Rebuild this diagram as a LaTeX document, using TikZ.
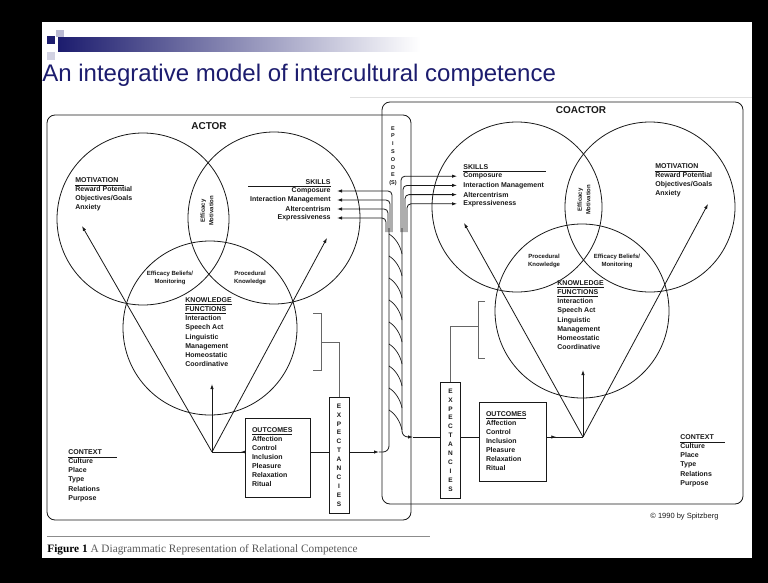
\documentclass[tikz,border=0pt]{standalone}
\usepackage{fontspec}
\setmainfont{Liberation Serif}
\setsansfont{Liberation Sans}
\usetikzlibrary{arrows.meta,positioning,decorations.markings}
\definecolor{navy}{RGB}{28,28,110}
\definecolor{ink}{RGB}{25,25,25}

\begin{document}
\begin{tikzpicture}[x=1pt,y=-1pt,line width=0.8pt,color=ink,
  >={Latex[length=5pt,width=3.4pt]},
  frame/.style={draw,rounded corners=8pt,inner sep=0pt},
  venn/.style={circle,draw,inner sep=0pt,minimum size=#1},
  lst/.style={font=\sffamily\bfseries\fontsize{7}{9.2}\selectfont,inner sep=0pt,align=left},
  itm/.style={font=\sffamily\bfseries\fontsize{7}{9.2}\selectfont,inner sep=0pt},
  lens/.style={font=\sffamily\bfseries\fontsize{6}{8.5}\selectfont,inner sep=0pt,align=center},
  hd/.style={font=\sffamily\bfseries\fontsize{10}{12}\selectfont,inner sep=0pt},
  ebox/.style={draw,font=\sffamily\bfseries\fontsize{6.5}{8.9}\selectfont,align=center,inner sep=0pt,minimum width=20pt,minimum height=116pt},
  obox/.style={draw,font=\sffamily\bfseries\fontsize{7}{9}\selectfont,align=left,text width=#1,inner xsep=7pt,minimum height=79pt},
  tipat/.style={postaction={decorate},decoration={markings,mark=at position #1 with {\arrow{>}}}},
  brk/.style={line width=0.5pt,black!60}]
  \useasboundingbox (0,0) rectangle (768,583);
  \fill[black] (0,0) rectangle (768,583);
  \fill[white] (42,22) rectangle (752,558);

  % slide header
  \fill[navy] (47,36) rectangle (55,44);
  \fill[navy!30] (56,30) rectangle (64,37);
  \fill[navy!20] (47,52) rectangle (55,60);
  \shade[left color=navy,right color=white] (58,38) rectangle (420,52);
  \node[anchor=base west,inner sep=0pt,text=navy,font=\sffamily\fontsize{24}{28}\selectfont] (title) at (42,82) {An integrative model of intercultural competence};
  \draw[black!12,line width=0.6pt] (350,97) -- (752,97);

  % the two frames
  \node[frame,minimum width=364pt,minimum height=405pt] (actor) at (229,317.5) {};
  \node[frame,minimum width=361pt,minimum height=402pt] (coactor) at (562.5,303) {};
  \node[hd] (actT) at (209,126) {ACTOR};
  \node[hd] (coaT) at (581,110) {COACTOR};

  % actor
  \node[venn=172pt] (motA) at (143,219) {};
  \node[venn=172pt] (sklA) at (274,218) {};
  \node[venn=174pt] (knwA) at (210,328) {};
  \node[lens,rotate=90] (efmA) at (207,211) {Efficacy\\Motivation};
  \node[lens] (ebmA) at (170,278) {Efficacy Beliefs/\\Monitoring};
  \node[lens] (prkA) at (250,278) {Procedural\\Knowledge};
  \node[lst,anchor=north west] (motLA) at (75,177) {MOTIVATION\\Reward Potential\\Objectives/Goals\\Anxiety};
  \draw (75,185) -- (124,185);
  \node[itm,anchor=east] (sklTA) at (331,182) {SKILLS};
  \draw (248,186) -- (331,186);
  \foreach \t [count=\i] in {Composure,Interaction Management,Altercentrism,Expressiveness}
    \node[itm,anchor=east] (sA\i) at (331,{182+9*\i}) {\t};
  \node[lst,anchor=north west] (knwLA) at (185,297) {\underline{KNOWLEDGE}\\\underline{FUNCTIONS}\\Interaction\\Speech Act\\Linguistic\\Management\\Homeostatic\\Coordinative};
  \node[lst,anchor=north west] (ctxA) at (68,449) {CONTEXT\\Culture\\Place\\Type\\Relations\\Purpose};
  \draw (68,457) -- (117,457);
  \node[obox=51pt] (outA) at (277.5,457.5) {\underline{OUTCOMES}\\Affection\\Control\\Inclusion\\Pleasure\\Relaxation\\Ritual};
  \node[ebox] (expA) at (339,455) {E\\X\\P\\E\\C\\T\\A\\N\\C\\I\\E\\S};

  \coordinate (apA) at (212,452);
  \coordinate (tkA) at (212,384);
  \coordinate (tmA) at (82,226);
  \coordinate (tsA) at (327,238);
  \draw[->] (apA) -- (tkA);
  \draw[->] (apA) -- (tmA);
  \draw[->] (apA) -- (tsA);
  \draw[tipat=0.12] (outA.west |- apA) -- (apA);
  \draw (expA.west |- apA) -- (outA.east |- apA);
  \coordinate (jA) at (379,452);
  \draw[->] (expA.east |- apA) -- (jA);
  \draw[brk] (expA.north) |- (321,342);
  \draw[brk] (313,313) -- (321,313) -- (321,370) -- (313,370);

  % coactor
  \node[venn=170pt] (sklB) at (517,207) {};
  \node[venn=170pt] (motB) at (650,207) {};
  \node[venn=174pt] (knwB) at (582,311) {};
  \node[lens,rotate=90] (efmB) at (584,200) {Efficacy\\Motivation};
  \node[lens] (prkB) at (544,261) {Procedural\\Knowledge};
  \node[lens] (ebmB) at (617,261) {Efficacy Beliefs/\\Monitoring};
  \node[lst,anchor=north west] (motLB) at (655,163) {MOTIVATION\\Reward Potential\\Objectives/Goals\\Anxiety};
  \draw (655,171) -- (704,171);
  \node[itm,anchor=west] (sklTB) at (463,167) {SKILLS};
  \draw (463,171) -- (546,171);
  \foreach \t [count=\i] in {Composure,Interaction Management,Altercentrism,Expressiveness}
    \node[itm,anchor=west] (sB\i) at (463,{167+9.2*\i}) {\t};
  \node[lst,anchor=north west] (knwLB) at (557,280) {\underline{KNOWLEDGE}\\\underline{FUNCTIONS}\\Interaction\\Speech Act\\Linguistic\\Management\\Homeostatic\\Coordinative};
  \node[lst,anchor=north west] (ctxB) at (680,434) {CONTEXT\\Culture\\Place\\Type\\Relations\\Purpose};
  \draw (680,442) -- (725,442);
  \node[obox=53pt] (outB) at (512.5,441.5) {\underline{OUTCOMES}\\Affection\\Control\\Inclusion\\Pleasure\\Relaxation\\Ritual};
  \node[ebox] (expB) at (450.5,440) {E\\X\\P\\E\\C\\T\\A\\N\\C\\I\\E\\S};

  \coordinate (apB) at (583,437);
  \coordinate (tkB) at (583,370);
  \coordinate (tmB) at (708,204);
  \coordinate (tsB) at (464,223);
  \draw[->] (apB) -- (tkB);
  \draw[->] (apB) -- (tmB);
  \draw[->] (apB) -- (tsB);
  \coordinate (jB) at (413,437);
  \draw (jB) -- (expB.west |- jB);
  \draw (expB.east |- jB) -- (outB.west |- jB);
  \draw[tipat=0.27] (outB.east |- jB) -- (apB);
  \draw[brk] (expB.north) |- (478,326);
  \draw[brk] (485,301) -- (478,301) -- (478,358) -- (485,358);

  % episode(s) channel
  \node[font=\sffamily\bfseries\fontsize{5.5}{7.8}\selectfont,align=center,inner sep=0pt] (epi) at (393,156) {E\\P\\I\\S\\O\\D\\E\\(S)};
  \foreach \x/\i in {392/1,390/2,388/3,386/4}
    \draw[->,rounded corners=4pt] (\x,232) |- ([xshift=6pt]sA\i.east);
  \foreach \x/\i in {401/1,403/2,405/3,407/4}
    \draw[->,rounded corners=4pt] (\x,232) |- ([xshift=-6pt]sB\i.west);
  \draw[rounded corners=6pt] (jA) -- (389,452) -- (389,228);
  \draw[->,rounded corners=6pt] (402,228) -- (402,437) -- (jB);
  \foreach \k in {0,...,8}
    \draw[line width=0.7pt] (389,{234+22*\k}) .. controls (394,{237+22*\k}) and (400,{244+22*\k}) .. (402,{254+22*\k});

  \node[anchor=west,inner sep=0pt,font=\sffamily\fontsize{7.5}{9}\selectfont] (cpy) at (650,517) {\textcopyright\ 1990 by Spitzberg};
  \draw[black!45,line width=0.6pt] (47,536) -- (430,536);
  \node[anchor=base west,inner sep=0pt,font=\rmfamily\fontsize{11.3}{13}\selectfont,text=black!65] (cap) at (47,552) {\textbf{\color{black}Figure 1} A Diagrammatic Representation of Relational Competence};
\end{tikzpicture}
\end{document}
